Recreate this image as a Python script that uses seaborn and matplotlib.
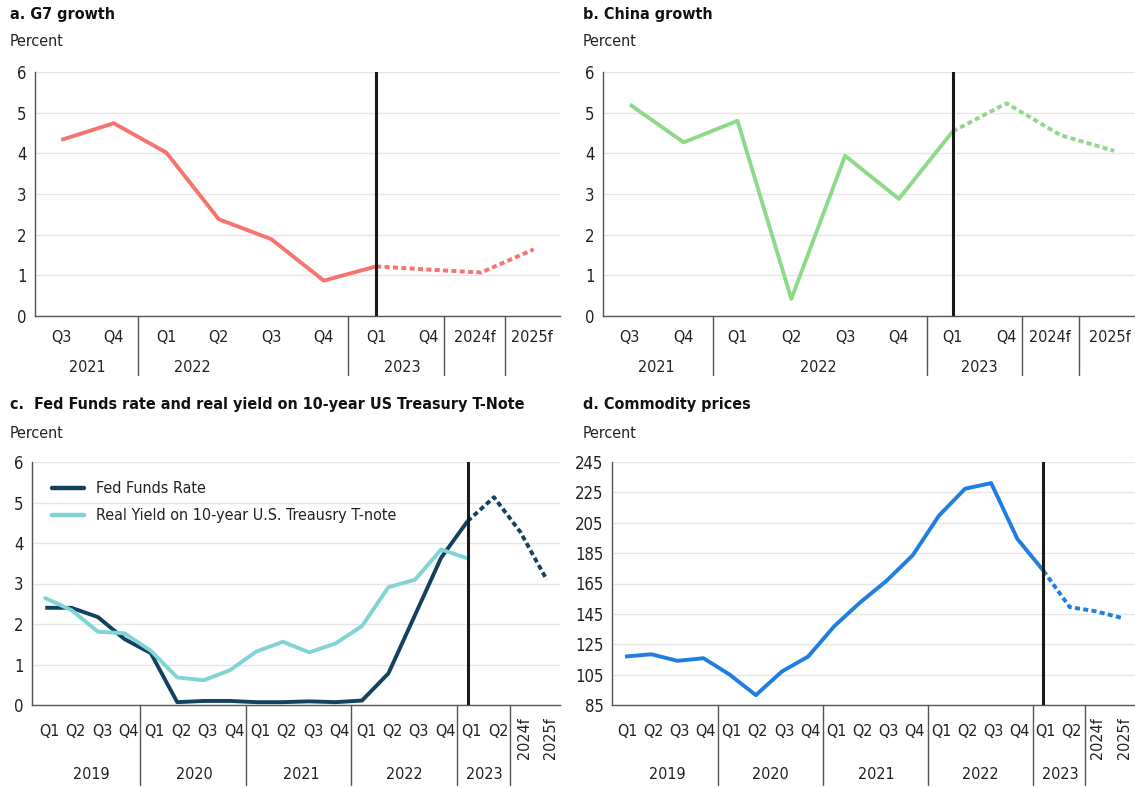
import matplotlib
matplotlib.use("Agg")
import matplotlib.pyplot as plt
import matplotlib.transforms as mtransforms
from matplotlib.lines import Line2D
import numpy as np
import pandas as pd
import seaborn as sns

# ---- data -------------------------------------------------------------
growth_quarters = ["Q3", "Q4", "Q1", "Q2", "Q3", "Q4", "Q1", "Q4", "2024f", "2025f"]
growth_years = ["2021", "2022", "2023"]
g7_growth = [4.33, 4.74, 4.02, 2.38, 1.89, 0.87, 1.22, 1.14, 1.07, 1.64]
china_growth = [5.20, 4.27, 4.80, 0.42, 3.94, 2.88, 4.54, 5.23, 4.45, 4.06]

long_quarters = ["Q1", "Q2", "Q3", "Q4"] * 4 + ["Q1", "Q2", "2024f", "2025f"]
long_years = ["2019", "2020", "2021", "2022", "2023"]
fed_funds = [2.40, 2.40, 2.17, 1.63, 1.28, 0.07, 0.10, 0.10, 0.07, 0.07,
             0.09, 0.07, 0.11, 0.78, 2.21, 3.64, 4.54, 5.13, 4.27, 3.09]
real_yield = [2.64, 2.34, 1.81, 1.77, 1.34, 0.68, 0.61, 0.86, 1.32, 1.56,
              1.30, 1.52, 1.95, 2.91, 3.09, 3.84, 3.62]
commodity = [116.9, 118.4, 114.1, 115.8, 105.0, 91.5, 107.1, 116.9, 136.9, 152.7,
             166.8, 183.6, 209.6, 227.4, 231.1, 194.4, 173.4, 149.5, 146.7, 142.3]

# ---- style ------------------------------------------------------------
sns.set_theme(style="white")
plt.rcParams["font.family"] = ["DejaVu Sans"]
plt.rcParams["font.stretch"] = "condensed"
TXT = "#222222"
GRID = "#e6e6e6"
SPINE = "#555555"
LW = 2.8
DASH = (0, (1.3, 0.85))
FS = 11.5
TFS = 11.5

fig = plt.figure(figsize=(11.35, 7.87), dpi=100)
W, H = 1135, 787


def px_axes(x0, x1, ytop, ybot):
    return fig.add_axes([x0 / W, 1 - ybot / H, (x1 - x0) / W, (ybot - ytop) / H])


def style_axes(ax, yticks, n):
    ax.set_xlim(-0.5, n - 0.5)
    ax.set_ylim(yticks[0], yticks[-1])
    ax.set_yticks(yticks)
    ax.set_yticklabels([str(t) for t in yticks], fontsize=FS + 0.5, color=TXT)
    ax.set_xticks([])
    ax.tick_params(axis="y", length=0, pad=6)
    for s in ("top", "right"):
        ax.spines[s].set_visible(False)
    for s in ("left", "bottom"):
        ax.spines[s].set_color(SPINE)
        ax.spines[s].set_linewidth(1.0)
    ax.grid(axis="y", color=GRID, lw=1.0)
    ax.set_axisbelow(True)
    ax.set_xlabel("")
    ax.set_ylabel("")


def category_axis(ax, labels, label_x, q_y, years, year_x, year_y, seps, sep_bottom,
                  rotate_last=0, rot_y=-0.05):
    tr = mtransforms.blended_transform_factory(ax.transData, ax.transAxes)
    n = len(labels)
    for i, (lab, x) in enumerate(zip(labels, label_x)):
        if i >= n - rotate_last:
            ax.text(x, rot_y, lab, transform=tr, rotation=90, ha="center", va="top",
                    fontsize=FS, color=TXT)
        else:
            ax.text(x, q_y, lab, transform=tr, ha="center", va="center",
                    fontsize=FS, color=TXT)
    for yr, x in zip(years, year_x):
        ax.text(x, year_y, yr, transform=tr, ha="center", va="center",
                fontsize=FS, color=TXT)
    for s in seps:
        ax.add_line(Line2D([s, s], [0, sep_bottom], transform=tr, color=SPINE,
                           lw=1.0, clip_on=False))


def split_line(ax, values, split, color):
    pos = np.arange(len(values))
    solid = pd.DataFrame({"pos": pos[:split + 1], "value": values[:split + 1]})
    dashed = pd.DataFrame({"pos": pos[split:], "value": values[split:]})
    sns.lineplot(data=solid, x="pos", y="value", ax=ax, color=color, lw=LW,
                 solid_capstyle="butt")
    if len(dashed) > 1:
        sns.lineplot(data=dashed, x="pos", y="value", ax=ax, color=color, lw=LW,
                     linestyle=DASH, dash_capstyle="butt")


def header(x, y_title, y_unit, title):
    fig.text(x / W, 1 - y_title / H, title, fontsize=TFS, fontweight="bold",
             color="#111111", va="center", ha="left")
    fig.text(x / W, 1 - y_unit / H, "Percent", fontsize=FS, color=TXT,
             va="center", ha="left")


# ---- a. G7 growth -----------------------------------------------------
ax_a = px_axes(35, 560, 72, 316)
split_line(ax_a, g7_growth, 6, "#f7736e")
ax_a.axvline(6, color="#1a1a1a", lw=2.2, zorder=3)
style_axes(ax_a, [0, 1, 2, 3, 4, 5, 6], 10)
pos_a = list(np.arange(8)) + [7.87, 8.97]
category_axis(ax_a, growth_quarters, pos_a, -0.09, growth_years,
              [0.5, 2.5, 6.5], -0.21, [1.46, 5.46, 7.29, 8.45], -0.24)
header(10, 14, 41, "a. G7 growth")

# ---- b. China growth --------------------------------------------------
ax_b = px_axes(603, 1141, 72, 316)
split_line(ax_b, china_growth, 6, "#8fd98a")
ax_b.axvline(6, color="#1a1a1a", lw=2.2, zorder=3)
style_axes(ax_b, [0, 1, 2, 3, 4, 5, 6], 10)
pos_b = list(np.arange(8)) + [7.8, 8.92]
category_axis(ax_b, growth_quarters, pos_b, -0.09, growth_years,
              [0.5, 3.5, 6.5], -0.21, [1.55, 5.52, 7.29, 8.35], -0.24)
header(583, 14, 41, "b. China growth")

# ---- c. Fed Funds rate and real yield ---------------------------------
ax_c = px_axes(32, 560, 462, 705)
NAVY, TEAL = "#12425f", "#80d4d4"
split_line(ax_c, fed_funds, 16, NAVY)
real_df = pd.DataFrame({"pos": np.arange(len(real_yield)), "value": real_yield})
sns.lineplot(data=real_df, x="pos", y="value", ax=ax_c, color=TEAL, lw=LW)
ax_c.axvline(16, color="#1a1a1a", lw=2.2, zorder=3)
style_axes(ax_c, [0, 1, 2, 3, 4, 5, 6], 20)
category_axis(ax_c, long_quarters, np.arange(20) + 0.15, -0.107, long_years,
              [1.75, 5.65, 9.7, 13.6, 16.65], -0.288,
              [3.6, 7.6, 11.6, 15.6, 17.6], -0.33, rotate_last=2)
leg = ax_c.legend(handles=[Line2D([], [], color=NAVY, lw=3.2),
                           Line2D([], [], color=TEAL, lw=3.2)],
                  labels=["Fed Funds Rate", "Real Yield on 10-year U.S. Treausry T-note"],
                  loc="upper left", bbox_to_anchor=(0.01, 0.98), frameon=False,
                  fontsize=FS, handlelength=2.0, handletextpad=0.8, labelspacing=0.75)
for t in leg.get_texts():
    t.set_color(TXT)
header(10, 405, 433, "c.  Fed Funds rate and real yield on 10-year US Treasury T-Note")

# ---- d. Commodity prices ----------------------------------------------
ax_d = px_axes(612, 1135, 462, 705)
split_line(ax_d, commodity, 16, "#1e7fe0")
ax_d.axvline(16, color="#1a1a1a", lw=2.2, zorder=3)
style_axes(ax_d, [85, 105, 125, 145, 165, 185, 205, 225, 245], 20)
category_axis(ax_d, long_quarters, np.arange(20) + 0.08, -0.107, long_years,
              [1.6, 5.55, 9.6, 13.6, 16.65], -0.288,
              [3.57, 7.55, 11.6, 15.6, 17.6], -0.33, rotate_last=2)
header(583, 405, 433, "d. Commodity prices")

fig.savefig("out.png", dpi=100)
